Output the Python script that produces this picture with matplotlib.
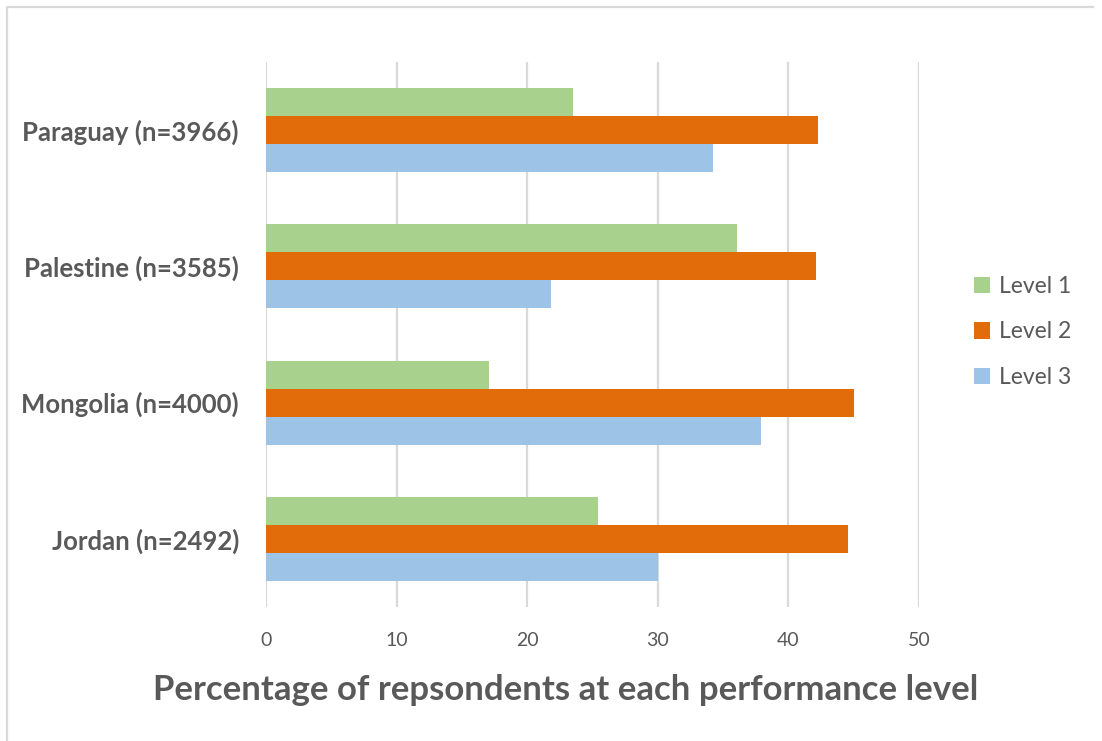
import matplotlib
matplotlib.use("Agg")
import matplotlib.pyplot as plt
import numpy as np
from matplotlib.lines import Line2D
from matplotlib.patches import Patch

# Countries listed bottom to top
countries = ["Jordan (n=2492)", "Mongolia (n=4000)", "Palestine (n=3585)", "Paraguay (n=3966)"]
levels = ["Level 1", "Level 2", "Level 3"]
level1 = [25.4, 17.1, 36.1, 23.5]
level2 = [44.6, 45.0, 42.1, 42.3]
level3 = [30.0, 37.9, 21.8, 34.2]
x_ticks = [0, 10, 20, 30, 40, 50]
x_title = "Percentage of repsondents at each performance level"

colors = ["#A9D18E", "#E36C0A", "#9DC3E6"]
text_color = "#595959"
grid_color = "#D9D9D9"
font = "Lato"

W, H = 1102, 741
fig = plt.figure(figsize=(W / 100, H / 100), dpi=100)
fig.patch.set_facecolor("white")

# plot area in pixel coordinates
left, right, top, bottom = 266, 919, 62, 607
ax = fig.add_axes([left / W, 1 - bottom / H, (right - left) / W, (bottom - top) / H])

y = np.arange(len(countries))
bh = 0.206
series = [level1, level2, level3]
offsets = [bh, 0.0, -bh]
for vals, off, col in zip(series, offsets, colors):
    ax.barh(y + off, vals, height=bh, color=col, edgecolor="none", zorder=3)

ax.set_xlim(0, 50)
ax.set_ylim(-0.5, 3.5)
ax.set_xticks(x_ticks)
ax.set_xticklabels([str(t) for t in x_ticks], fontsize=14, color=text_color, family=font)
ax.set_yticks(y)
ax.set_yticklabels(countries, fontsize=18.5, fontweight="bold", color=text_color, family=font)
ax.tick_params(axis="both", length=0)
ax.tick_params(axis="x", pad=18)
ax.tick_params(axis="y", pad=19.5)
ax.grid(axis="x", color=grid_color, linewidth=1.6, zorder=0)
ax.set_axisbelow(True)
for s in ax.spines.values():
    s.set_visible(False)

fig.text(566 / W, 1 - 690 / H, x_title, ha="center", va="center",
         fontsize=25, fontweight="bold", color=text_color, family=font)

handles = [Patch(facecolor=c, edgecolor="none") for c in colors]
fig.legend(handles, levels, loc="center left", bbox_to_anchor=(974 / W, 1 - 332 / H),
           frameon=False, prop={"family": font, "size": 16.5},
           borderpad=0, borderaxespad=0,
           handlelength=0.7, handleheight=0.7, handletextpad=0.4,
           labelspacing=1.05, labelcolor=text_color)

# outer chart frame
fig.add_artist(Line2D([7 / W, 7 / W, 1093 / W], [0, 1 - 7 / H, 1 - 7 / H],
                      transform=fig.transFigure, color=grid_color, linewidth=1.6))

fig.savefig("out.png", dpi=100, facecolor="white")
